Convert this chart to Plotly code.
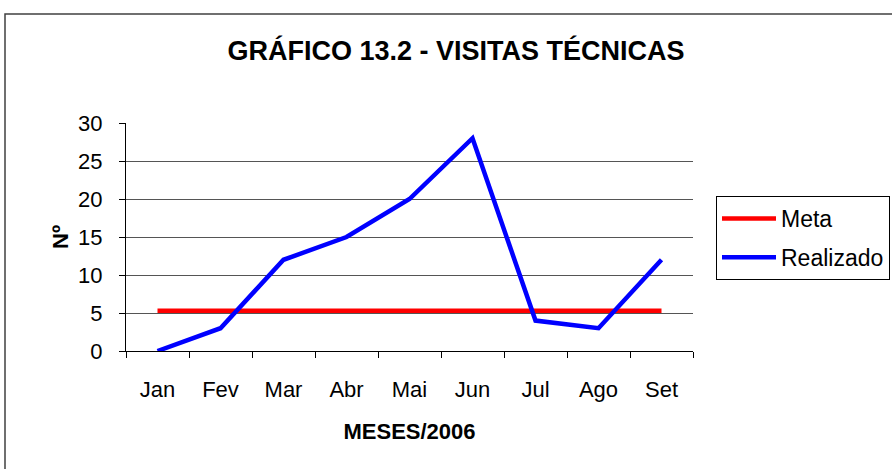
import plotly.graph_objects as go

months = ["Jan", "Fev", "Mar", "Abr", "Mai", "Jun", "Jul", "Ago", "Set"]
meta = [5.3, 5.3, 5.3, 5.3, 5.3, 5.3, 5.3, 5.3, 5.3]
realizado = [0, 3, 12, 15, 20, 28, 4, 3, 12]

W, H = 892, 469
L, R, T, B = 126, 693, 123, 351  # plot area pixel bounds

def px(x):
    return (x - L) / (R - L)

def py(y):
    return (B - y) / (B - T)

font_family = "Liberation Sans, Arial, sans-serif"

fig = go.Figure()
fig.add_trace(go.Scatter(x=months, y=meta, name="Meta", mode="lines", legendgroup="a",
                         line=dict(color="#FF0000", width=4.5)))
fig.add_trace(go.Scatter(x=months, y=realizado, name="Realizado", mode="lines", legendgroup="b",
                         line=dict(color="#0000FF", width=4.5)))

fig.update_layout(
    width=W, height=H,
    margin=dict(l=L, r=W - R, t=T, b=H - B, pad=0, autoexpand=False),
    paper_bgcolor="white", plot_bgcolor="white",
    font=dict(family=font_family, size=22, color="black"),
    title=dict(text="<b>GRÁFICO 13.2 - VISITAS TÉCNICAS</b>",
               x=px(456), xref="paper", y=1 - 51 / H, yref="container",
               xanchor="center", yanchor="middle",
               font=dict(size=27, family=font_family, color="black")),
    showlegend=True,
    legend=dict(x=px(716), y=py(196), xanchor="left", yanchor="top",
                bordercolor="black", borderwidth=1, bgcolor="white",
                font=dict(size=23, family=font_family),
                tracegroupgap=6, itemwidth=54),
    shapes=[dict(type="rect", xref="paper", yref="paper",
                 x0=px(5), x1=px(905), y0=py(490), y1=py(14),
                 line=dict(color="#404040", width=1.5), fillcolor="rgba(0,0,0,0)",
                 layer="below")],
)

fig.update_xaxes(
    type="category", showline=True, linecolor="black", linewidth=1,
    ticks="outside", tickson="boundaries", ticklen=6, tickcolor="black",
    showgrid=False, tickfont=dict(size=22),
    title=dict(text="<b>MESES/2006</b>", font=dict(size=22), standoff=22),
    range=[-0.5, 8.5], ticklabelstandoff=19,
)
fig.update_yaxes(
    range=[0, 30], dtick=5, showline=True, linecolor="black", linewidth=1,
    ticks="outside", ticklen=6, tickcolor="black",
    showgrid=True, gridcolor="#555555", gridwidth=1, zeroline=False,
    tickfont=dict(size=22), ticklabelstandoff=12,
    title=dict(text="<b>Nº</b>", font=dict(size=22), standoff=3),
)

fig.write_html("out.html", config={"displayModeBar": False},
               post_script="document.body.style.margin='0px';")
